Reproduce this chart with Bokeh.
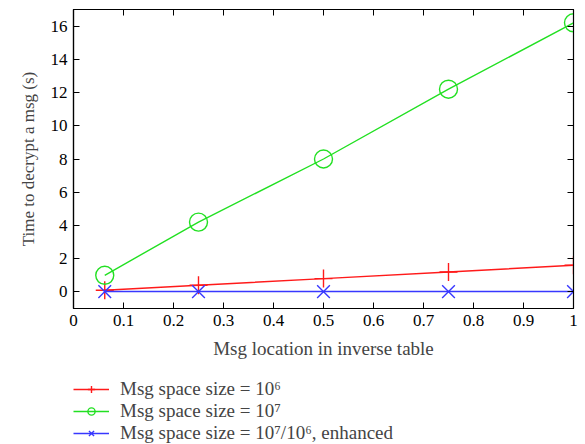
from bokeh.plotting import figure
from bokeh.layouts import column
from bokeh.models import LinearAxis, Legend, LegendItem, FixedTicker, Range1d
from bokeh.embed import file_html
from bokeh.resources import INLINE

x_vals = [0.0625, 0.25, 0.5, 0.75, 1.0]
red_vals = [0.1, 0.4, 0.8, 1.2, 1.6]
green_vals = [1.0, 4.2, 8.0, 12.2, 16.2]
blue_vals = [0.02, 0.02, 0.02, 0.02, 0.02]
x_ticks = [0, 0.1, 0.2, 0.3, 0.4, 0.5, 0.6, 0.7, 0.8, 0.9, 1]
y_ticks = [0, 2, 4, 6, 8, 10, 12, 14, 16]
labels = ["Msg space size = 10\u2076", "Msg space size = 10\u2077",
          "Msg space size = 10\u2077/10\u2076, enhanced"]

FONT = "Liberation Serif"

p = figure(width=585, height=370, output_backend="svg", toolbar_location=None,
           x_range=Range1d(0, 1), y_range=Range1d(-1, 17),
           min_border_left=73, min_border_right=12, min_border_top=9,
           min_border_bottom=62)
p.grid.visible = False
p.outline_line_color = "black"
p.outline_line_width = 1.2

for ax in [p.xaxis[0], p.yaxis[0]]:
    ax.major_label_text_font = FONT
    ax.major_label_text_font_size = "17px"
    ax.major_label_text_color = "black"
    ax.axis_label_text_font = FONT
    ax.axis_label_text_font_style = "normal"
    ax.major_tick_in = 6
    ax.major_tick_out = 0
    ax.minor_tick_line_color = None
    ax.axis_line_width = 1.2
    ax.major_label_standoff = 6

p.xaxis[0].axis_label_text_font_size = "19px"
p.yaxis[0].axis_label_text_font_size = "17px"
p.xaxis[0].ticker = FixedTicker(ticks=x_ticks)
p.yaxis[0].ticker = FixedTicker(ticks=y_ticks)
p.xaxis[0].major_label_overrides = {0: "0", 1: "1"}
p.xaxis[0].axis_label = "Msg location in inverse table"
p.yaxis[0].axis_label = "Time to decrypt a msg (s)"
p.xaxis[0].axis_label_standoff = 9
p.yaxis[0].axis_label_standoff = 10

top = LinearAxis(ticker=FixedTicker(ticks=x_ticks), major_label_text_font_size="0px",
                 major_tick_in=6, major_tick_out=0, minor_tick_line_color=None,
                 major_label_standoff=0)
right = LinearAxis(ticker=FixedTicker(ticks=y_ticks), major_label_text_font_size="0px",
                   major_tick_in=6, major_tick_out=0, minor_tick_line_color=None,
                   major_label_standoff=0)
p.add_layout(top, "above")
p.add_layout(right, "right")

colors = ["#ff1a1a", "#22e022", "#3838ff"]
markers = ["cross", "circle", "x"]
series = [red_vals, green_vals, blue_vals]

for vals, c, m in zip(series, colors, markers):
    p.line(x_vals, vals, line_color=c, line_width=1.4)
    p.scatter(x_vals, vals, marker=m, size=18, line_color=c, fill_color=None,
              line_width=1.4)

# legend figure below the plot
lg = figure(width=585, height=74, output_backend="svg", toolbar_location=None,
            x_range=Range1d(0, 1), y_range=Range1d(0, 1),
            x_axis_location=None, y_axis_location=None,
            min_border_left=0, min_border_right=0, min_border_top=0,
            min_border_bottom=0)
lg.grid.visible = False
lg.outline_line_color = None

items = []
for c, m, lab in zip(colors, markers, labels):
    l = lg.line([-5, -4], [-5, -4], line_color=c, line_width=1.4)
    s = lg.scatter([-5], [-5], marker=m, size=15, line_color=c, fill_color=None,
                   line_width=1.4)
    items.append(LegendItem(label=lab, renderers=[l, s]))

legend = Legend(items=items, location=(0, 0), orientation="vertical",
                border_line_color=None, background_fill_alpha=0,
                label_text_font=FONT, label_text_font_size="19px",
                glyph_width=36, glyph_height=18, spacing=0, padding=0,
                margin=0, label_standoff=11, label_height=19)
lg.add_layout(legend)

open("out.html", "w").write(file_html(column(p, lg, spacing=0), INLINE))
